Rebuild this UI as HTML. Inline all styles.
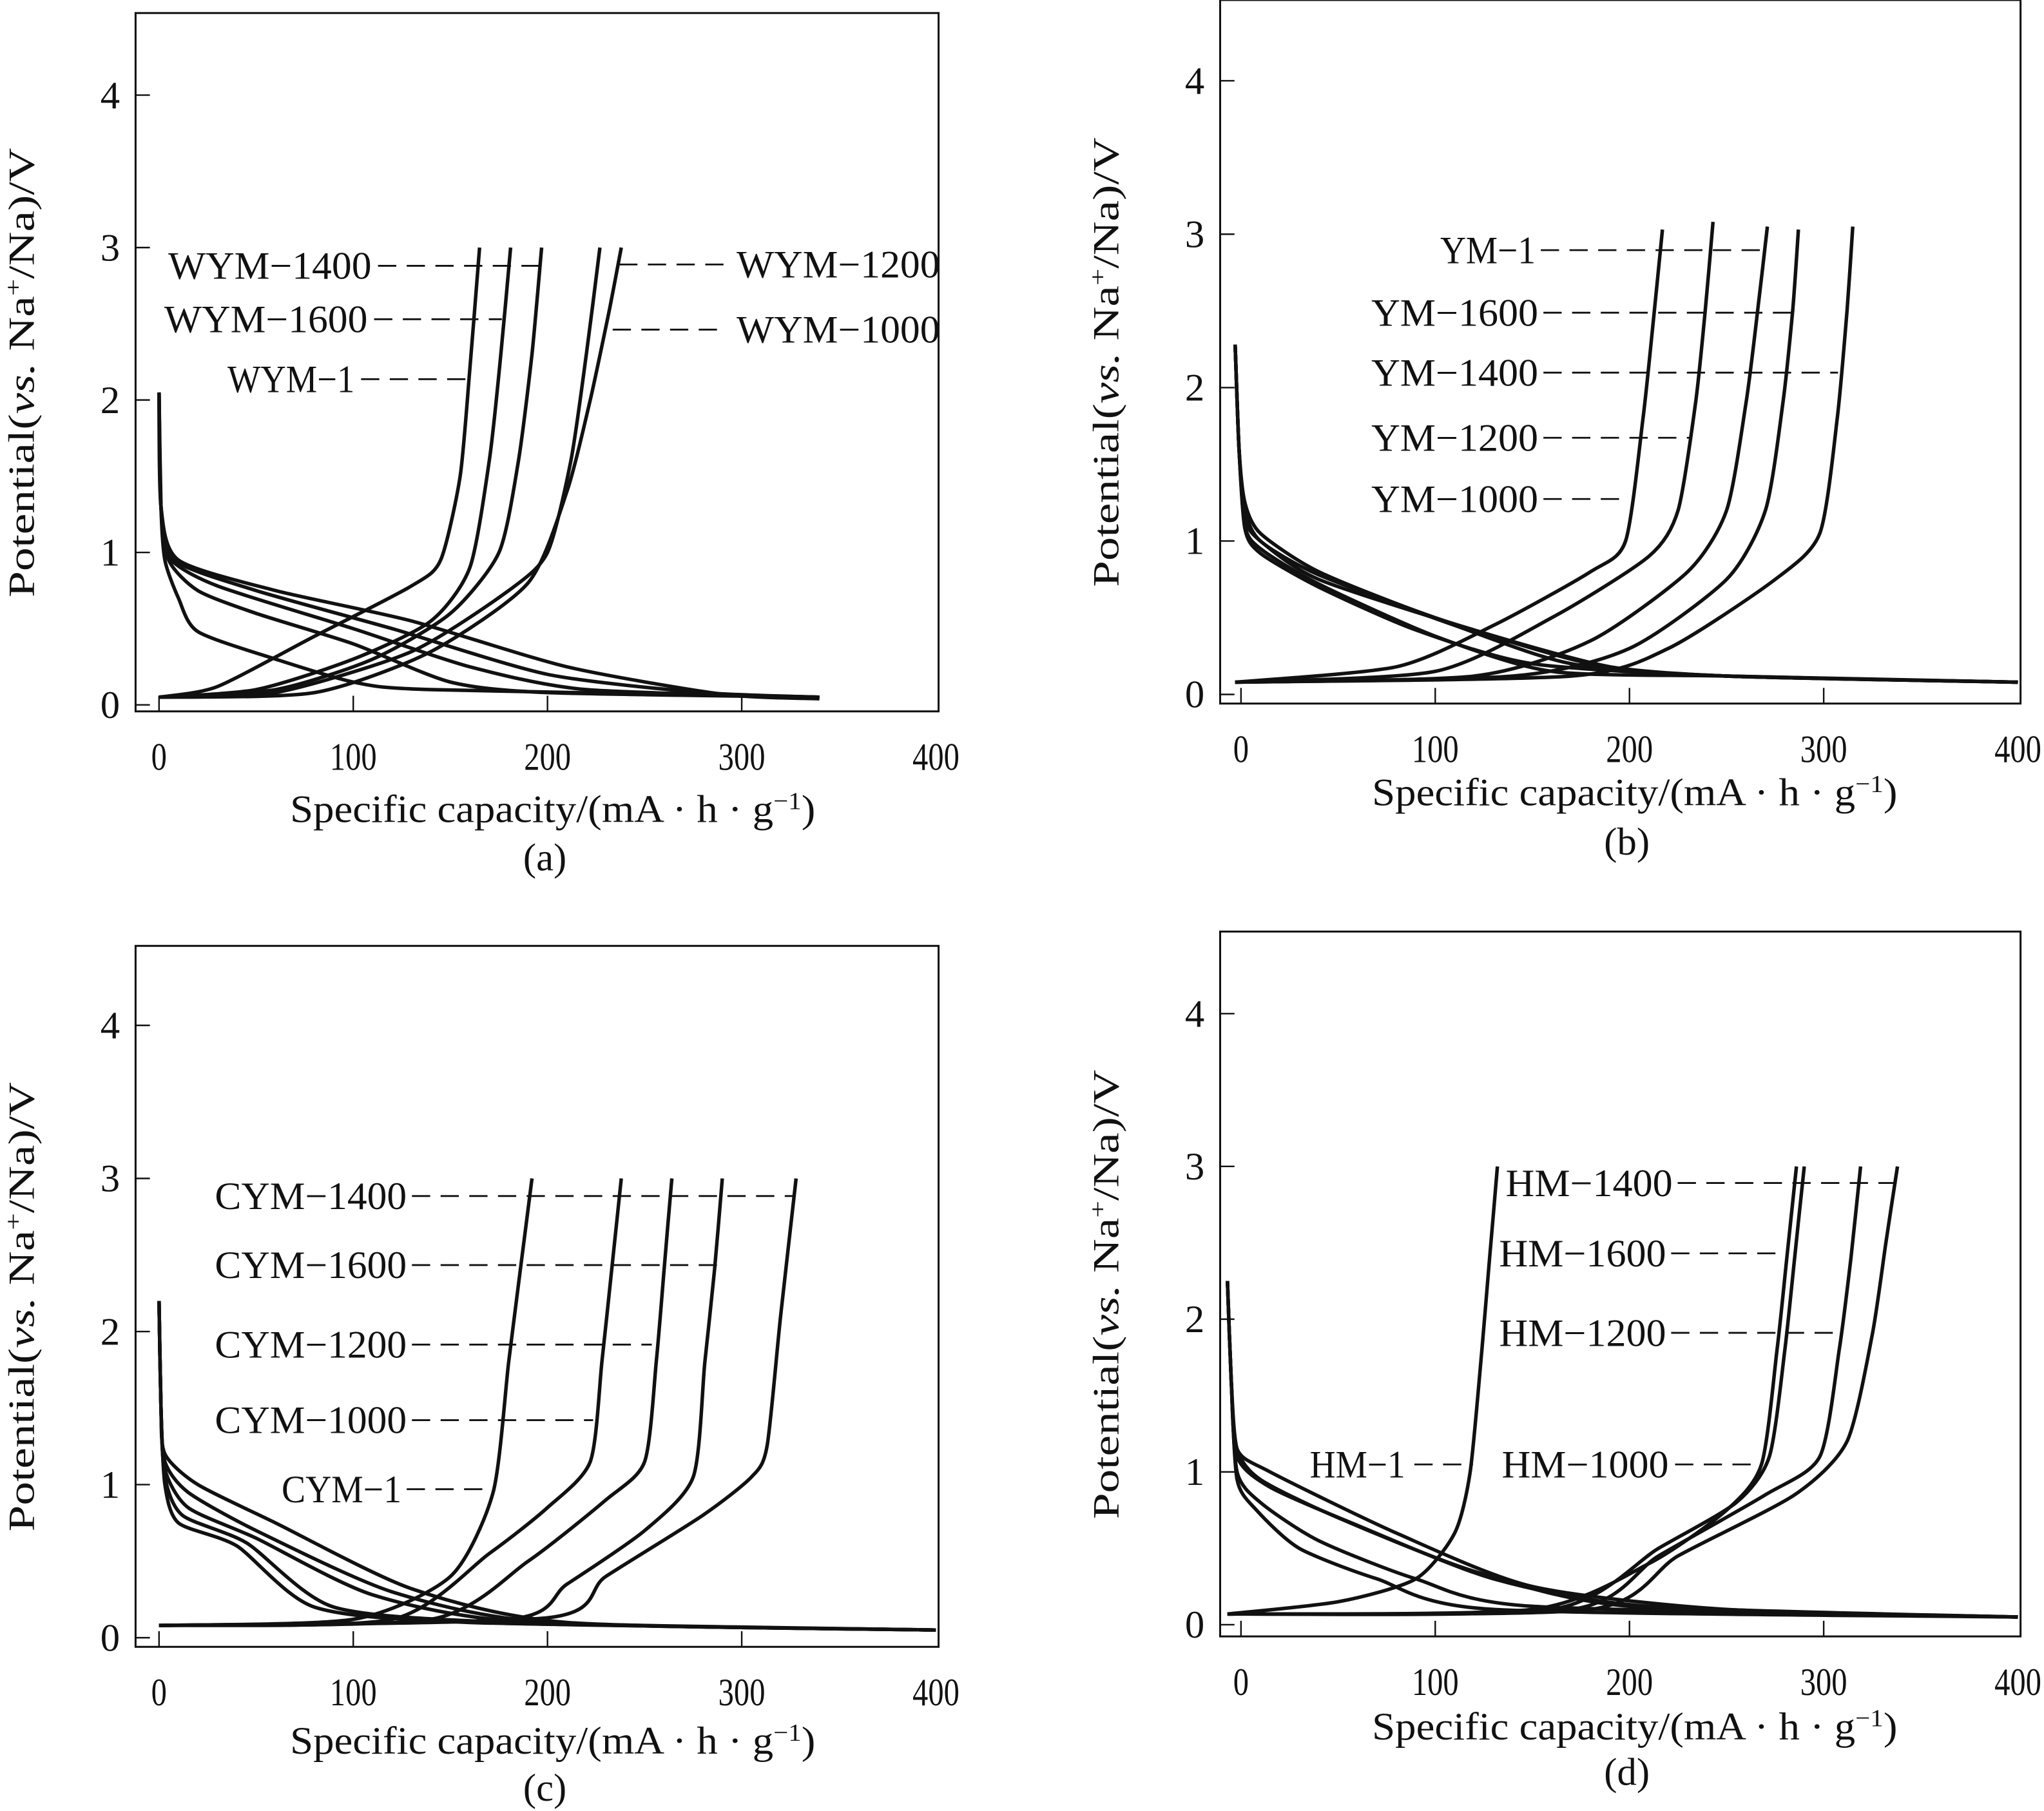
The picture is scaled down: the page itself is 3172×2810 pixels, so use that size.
<!DOCTYPE html>
<html><head><meta charset="utf-8"><style>
html,body{margin:0;padding:0;background:#fff}
svg{display:block}
text{font-family:"Liberation Serif",serif;fill:#111}
</style></head><body>
<svg id="fig" xmlns="http://www.w3.org/2000/svg" width="3172" height="2810" viewBox="0 0 1568 1390" preserveAspectRatio="none"></svg>
<script>
// ---- data ----
const xTicks = [0,100,200,300,400];
const yTicks = [0,1,2,3,4];
// panel a
const aCharge = [
 [[0,0.05],[30,0.12],[80,0.45],[130,0.78],[145,0.95],[155,1.5],[160,2.2],[165,3.0]],
 [[0,0.05],[50,0.1],[100,0.3],[140,0.55],[160,0.9],[170,1.6],[176,2.3],[181,3.0]],
 [[0,0.05],[60,0.1],[110,0.3],[150,0.6],[175,1.0],[185,1.6],[192,2.3],[197,3.0]],
 [[0,0.05],[60,0.08],[130,0.35],[180,0.75],[200,1.0],[212,1.6],[220,2.3],[227,3.0]],
 [[0,0.05],[80,0.08],[140,0.35],[190,0.8],[210,1.4],[222,2.0],[232,2.6],[238,3.0]]];
const aDischarge = [
 [[0,2.05],[1,1.3],[3,0.95],[10,0.7],[20,0.48],[60,0.3],[100,0.15],[140,0.1],[340,0.05]],
 [[0,2.05],[1,1.3],[5,0.95],[20,0.75],[50,0.6],[100,0.4],[150,0.15],[200,0.08],[340,0.05]],
 [[0,2.05],[1,1.3],[5,0.97],[30,0.78],[100,0.5],[160,0.25],[220,0.1],[340,0.05]],
 [[0,2.05],[1,1.3],[8,0.95],[50,0.75],[120,0.5],[200,0.2],[280,0.08],[340,0.05]],
 [[0,2.05],[1,1.3],[10,0.95],[60,0.75],[130,0.55],[210,0.25],[290,0.07],[340,0.04]]];
// panel b
const bCharge = [
 [[-3,0.08],[80,0.18],[130,0.45],[180,0.8],[198,1.0],[207,1.8],[212,2.4],[217,3.03]],
 [[-3,0.08],[100,0.15],[160,0.5],[210,0.9],[225,1.2],[234,1.9],[239,2.5],[243,3.08]],
 [[-3,0.08],[120,0.12],[180,0.35],[230,0.8],[250,1.2],[260,1.9],[266,2.5],[271,3.05]],
 [[-3,0.08],[140,0.12],[200,0.3],[250,0.75],[270,1.2],[279,1.9],[284,2.5],[287,3.03]],
 [[-3,0.08],[170,0.12],[220,0.3],[275,0.75],[298,1.05],[307,1.8],[312,2.5],[315,3.05]]];
const bDischarge = [
 [[-3,2.28],[-1,1.6],[2,1.25],[10,1.05],[40,0.8],[100,0.5],[180,0.2],[250,0.12],[400,0.08]],
 [[-3,2.28],[-1,1.6],[2,1.2],[10,1.0],[40,0.78],[110,0.45],[170,0.2],[250,0.12],[400,0.08]],
 [[-3,2.28],[-1,1.6],[2,1.15],[10,1.0],[40,0.75],[120,0.42],[190,0.18],[250,0.12],[400,0.08]],
 [[-3,2.28],[-1,1.6],[2,1.1],[10,0.95],[40,0.72],[100,0.38],[160,0.15],[250,0.12],[400,0.08]],
 [[-3,2.28],[-1,1.6],[2,1.08],[10,0.92],[40,0.7],[90,0.42],[150,0.2],[250,0.12],[400,0.08]]];
// panel c
const cCharge = [
 [[0,0.08],[100,0.12],[150,0.4],[172,0.95],[180,1.8],[186,2.4],[192,3.0]],
 [[0,0.08],[120,0.12],[170,0.55],[200,0.85],[222,1.15],[228,1.8],[233,2.4],[238,3.0]],
 [[0,0.08],[140,0.12],[190,0.5],[230,0.9],[250,1.15],[256,1.8],[260,2.4],[264,3.0]],
 [[0,0.08],[180,0.12],[210,0.35],[250,0.7],[275,1.05],[281,1.8],[286,2.4],[290,3.0]],
 [[0,0.08],[200,0.13],[230,0.4],[280,0.8],[305,1.05],[313,1.25],[320,2.1],[328,3.0]]];
const cDischarge = [
 [[0,2.2],[1,1.5],[3,1.15],[15,0.95],[50,0.7],[120,0.3],[200,0.1],[400,0.05]],
 [[0,2.2],[1,1.5],[3,1.2],[20,1.0],[60,0.75],[130,0.32],[210,0.1],[400,0.05]],
 [[0,2.2],[1,1.5],[3,1.1],[15,0.85],[50,0.65],[110,0.28],[190,0.1],[400,0.05]],
 [[0,2.2],[1,1.5],[3,1.05],[12,0.8],[45,0.62],[90,0.2],[180,0.1],[400,0.05]],
 [[0,2.2],[1,1.5],[3,1.0],[10,0.75],[40,0.6],[80,0.2],[160,0.1],[400,0.05]]];
// panel d
const dCharge = [
 [[-7,0.07],[50,0.15],[90,0.3],[110,0.6],[118,1.0],[124,1.8],[128,2.4],[132,3.0]],
 [[-7,0.07],[150,0.1],[210,0.4],[250,0.75],[268,1.05],[276,1.8],[281,2.4],[286,3.0]],
 [[-7,0.07],[160,0.1],[215,0.5],[255,0.8],[272,1.1],[280,1.8],[285,2.4],[290,3.0]],
 [[-7,0.07],[170,0.1],[215,0.45],[270,0.85],[298,1.1],[308,1.8],[314,2.4],[319,3.0]],
 [[-7,0.07],[180,0.1],[225,0.45],[285,0.85],[312,1.2],[325,1.9],[332,2.5],[338,3.0]]];
const dDischarge = [
 [[-7,2.25],[-5,1.6],[-2,1.15],[10,0.95],[50,0.7],[120,0.35],[200,0.12],[400,0.05]],
 [[-7,2.25],[-5,1.6],[-2,1.1],[15,0.9],[60,0.65],[130,0.3],[210,0.12],[400,0.05]],
 [[-7,2.25],[-5,1.6],[-2,1.0],[10,0.8],[40,0.55],[90,0.3],[150,0.12],[400,0.05]],
 [[-7,2.25],[-5,1.6],[-2,0.95],[8,0.75],[30,0.5],[70,0.3],[130,0.1],[400,0.05]],
 [[-7,2.25],[-5,1.6],[-2,1.15],[15,1.0],[80,0.6],[150,0.25],[250,0.1],[400,0.05]]];

const panels = [
 {id:'a', L:104,R:720,T:10,B:546, x0:122,x400:718, y0:541,y4:73, charge:aCharge, dis:aDischarge, title:623, cap:658, cw:19.5,
  labels:[['WYM−1400',285,204,'end',290,415],['WYM−1600',282,245,'end',287,385],['WYM−1',272,291,'end',277,358],
          ['WYM−1200',565,203,'start',475,555],['WYM−1000',565,253,'start',470,555]]},
 {id:'b', L:936,R:1550,T:0,B:540, x0:952,x400:1548, y0:533,y4:62, charge:bCharge, dis:bDischarge, title:610, cap:646, cw:18.3,
  labels:[['YM−1',1178,192,'end',1182,1355],['YM−1600',1180,240,'end',1184,1375],['YM−1400',1180,286,'end',1184,1410],
          ['YM−1200',1180,336,'end',1184,1298],['YM−1000',1180,383,'end',1184,1250]]},
 {id:'c', L:104,R:720,T:726,B:1264, x0:122,x400:718, y0:1257,y4:787, charge:cCharge, dis:cDischarge, title:1338, cap:1372, cw:18.4,
  labels:[['CYM−1400',312,918,'end',316,610],['CYM−1600',312,971,'end',316,552],['CYM−1200',312,1032,'end',316,500],
          ['CYM−1000',312,1090,'end',316,455],['CYM−1',308,1143,'end',312,378]]},
 {id:'d', L:936,R:1550,T:715,B:1256, x0:952,x400:1548, y0:1247,y4:778, charge:dCharge, dis:dDischarge, title:1327, cap:1360, cw:18.3,
  labels:[['HM−1400',1155,908,'start',1287,1455],['HM−1600',1150,962,'start',1282,1372],['HM−1200',1150,1023,'start',1282,1414],
          ['HM−1000',1152,1124,'start',1285,1350],['HM−1',1078,1124,'end',1085,1130]]}
];

const NS='http://www.w3.org/2000/svg';
const svg=document.getElementById('fig');
function mk(tag,attrs,parent){const e=document.createElementNS(NS,tag);for(const k in attrs)e.setAttribute(k,attrs[k]);(parent||svg).appendChild(e);return e;}
function smoothPath(P){
  let d='M'+P[0][0].toFixed(1)+','+P[0][1].toFixed(1);
  for(let i=0;i<P.length-1;i++){
    const p0=P[Math.max(0,i-1)],p1=P[i],p2=P[i+1],p3=P[Math.min(P.length-1,i+2)];
    const t=0.12;
    const c1=[p1[0]+(p2[0]-p0[0])*t,p1[1]+(p2[1]-p0[1])*t];
    const c2=[p2[0]-(p3[0]-p1[0])*t,p2[1]-(p3[1]-p1[1])*t];
    d+=' C'+c1[0].toFixed(1)+','+c1[1].toFixed(1)+' '+c2[0].toFixed(1)+','+c2[1].toFixed(1)+' '+p2[0].toFixed(1)+','+p2[1].toFixed(1);
  }
  return d;
}

panels.forEach(p=>{
  const g=mk('g',{});
  
  
  const sx=v=>p.x0+(v/400)*(p.x400-p.x0);
  const sy=v=>p.y0-(v/4)*(p.y0-p.y4);
  const fr=mk('rect',{x:p.L,y:p.T,width:p.R-p.L,height:p.B-p.T,fill:'none',stroke:'#111','stroke-width':1.5},g);
  
  
  xTicks.forEach(t=>{
    if(t<400){const tk=mk('line',{x1:sx(t),x2:sx(t),y1:p.B,y2:p.B-12,stroke:'#111','stroke-width':1.2},g);
      
      }
    const tl=mk('text',{x:sx(t),y:p.B+45,'font-size':30,'text-anchor':'middle',textLength:String(t).length*12,lengthAdjust:'spacingAndGlyphs'},g);
    tl.textContent=t;
    
    
  });
  yTicks.forEach(t=>{
    const tk=mk('line',{x1:p.L,x2:p.L+11,y1:sy(t),y2:sy(t),stroke:'#111','stroke-width':1.2},g);
    
    
    const tl=mk('text',{x:p.L-12,y:sy(t)+10,'font-size':30,'text-anchor':'end'},g);
    tl.textContent=t;
    
    
  });
  const drawCurve=(pts,name)=>{
    const pl=mk('path',{d:smoothPath(pts.map(q=>[sx(q[0]),sy(q[1])])),fill:'none',stroke:'#111','stroke-width':2.7,'stroke-linejoin':'round'},g);
    
    
  };
  p.charge.forEach((c,i)=>drawCurve(c,'charge-curve-'+(i+1)));
  p.dis.forEach((c,i)=>drawCurve(c,'discharge-curve-'+(i+1)));
  p.labels.forEach(l=>{
    const t=mk('text',{x:l[1],y:l[2]+10,'font-size':30,'text-anchor':l[3],textLength:l[0].length*p.cw,lengthAdjust:'spacingAndGlyphs'},g);
    t.textContent=l[0];
    
    
    const d=mk('line',{x1:l[4],x2:l[5],y1:l[2],y2:l[2],stroke:'#111','stroke-width':1.4,'stroke-dasharray':'14 8'},g);
    
    
  });
  const cx=(p.L+p.R)/2+(p.id==='a'||p.id==='c'?12:11);
  const xt=mk('text',{x:cx,y:p.title+8,'font-size':30,'text-anchor':'middle',textLength:403,lengthAdjust:'spacingAndGlyphs'},g);
  xt.innerHTML='Specific capacity/(mA · h · g<tspan dy="-10" font-size="19">−1</tspan><tspan dy="10">)</tspan>';
  
  
  const cp=mk('text',{x:cx-6,y:p.cap+10,'font-size':30,'text-anchor':'middle'},g);
  cp.textContent='('+p.id+')';
  
  
  const ycx=p.L-78, ycy=(p.T+p.B)/2+8;
  const yt=mk('text',{x:ycx,y:ycy,'font-size':28,'text-anchor':'middle',transform:'rotate(-90 '+ycx+' '+ycy+')',textLength:345,lengthAdjust:'spacingAndGlyphs'},g);
  yt.innerHTML='Potential(<tspan font-style="italic">vs.</tspan> Na<tspan dy="-10" font-size="18">+</tspan><tspan dy="10">/Na)/V</tspan>';
  
  
});
</script>
</body></html>
